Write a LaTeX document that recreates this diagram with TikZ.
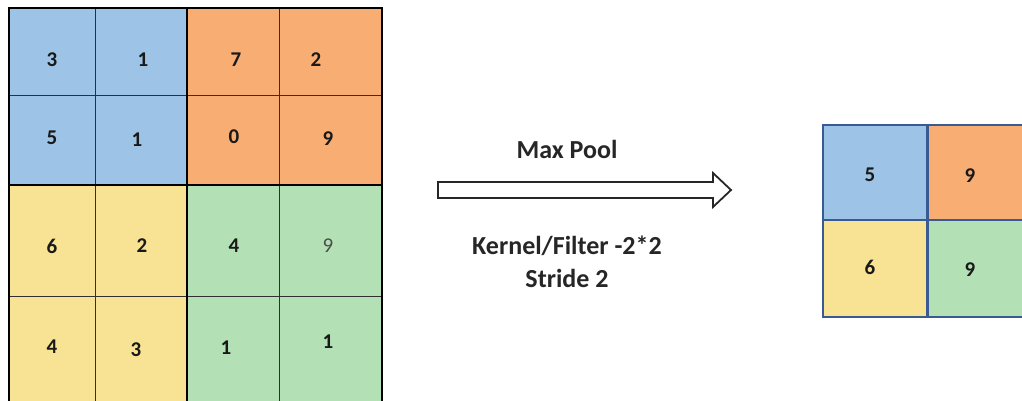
\documentclass[tikz,border=0pt]{standalone}
\usepackage{fontspec}
\setmainfont{Carlito}
\definecolor{cblue}{HTML}{9DC3E6}
\definecolor{corange}{HTML}{F8AD72}
\definecolor{cyellow}{HTML}{F8E293}
\definecolor{cgreen}{HTML}{B3E1B5}
\definecolor{gridline}{HTML}{303030}
\definecolor{dblue}{HTML}{3A5A94}
\begin{document}
\begin{tikzpicture}[x=1pt,y=-1pt,
  num/.style={font=\bfseries\fontsize{21}{21}\selectfont, text=black!90, inner sep=0pt},
  numlight/.style={font=\fontsize{21}{21}\selectfont, text=black!70, inner sep=0pt},
  lbl/.style={font=\bfseries\fontsize{26}{33}\selectfont, text=black!85, inner sep=0pt, align=center},
  thin/.style={draw=gridline, line width=0.9pt},
  thick/.style={draw=black, line width=2pt},
  bluethick/.style={draw=dblue, line width=2pt}]
\useasboundingbox (0,0) rectangle (1022,400);
\begin{scope}
\clip (0,0) rectangle (1022,400);
% left grid fills
\fill[cblue] (9,8) rectangle (187,185);
\fill[corange] (187,8) rectangle (382,185);
\fill[cyellow] (9,185) rectangle (187,402);
\fill[cgreen] (187,185) rectangle (382,402);
% thin lines
\draw[thin] (95,8) -- (95,402);
\draw[thin] (279,8) -- (279,402);
\draw[thin] (9,95) -- (382,95);
\draw[thin] (9,296) -- (382,296);
% thick lines
\draw[thick] (187,8) -- (187,402);
\draw[thick] (9,185) -- (382,185);
\draw[thick] (9,8) rectangle (382,402);
% right grid
\fill[cblue] (823,125) rectangle (927,220);
\fill[corange] (927,125) rectangle (1030,220);
\fill[cyellow] (823,220) rectangle (927,317);
\fill[cgreen] (927,220) rectangle (1030,317);
\draw[dblue, line width=1.2pt] (823,220) -- (1030,220);
\draw[dblue, line width=3pt] (927,125) -- (927,317);
\draw[bluethick] (823,125) rectangle (1030,317);
\end{scope}
% numbers
\node[num] (a11) at (52,60) {3};
\node[num] (a12) at (143,60) {1};
\node[num] (a13) at (236,60) {7};
\node[num] (a14) at (316,60) {2};
\node[num] (a21) at (52,138) {5};
\node[num] (a22) at (137,140) {1};
\node[num] (a23) at (234,137) {0};
\node[num] (a24) at (328,139) {9};
\node[num] (a31) at (52,246) {6};
\node[num] (a32) at (142,246) {2};
\node[num] (a33) at (234,246) {4};
\node[numlight] (a34) at (328,246) {9};
\node[num] (a41) at (52,347) {4};
\node[num] (a42) at (136,350) {3};
\node[num] (a43) at (226,348) {1};
\node[num] (a44) at (328,342) {1};
\node[num] (b11) at (870,175) {5};
\node[num] (b12) at (970,176) {9};
\node[num] (b21) at (870,267) {6};
\node[num] (b22) at (970,270) {9};
% arrow
\draw[black!85, line width=1.8pt, fill=white, line join=miter]
  (438,182) -- (713,182) -- (713,173) -- (731,190) -- (713,207) -- (713,198) -- (438,198) -- cycle;
\node[lbl] (mp) at (567,149) {Max Pool};
\node[lbl] (kf) at (567,262) {Kernel/Filter -2*2\\Stride 2};
\end{tikzpicture}
\end{document}
